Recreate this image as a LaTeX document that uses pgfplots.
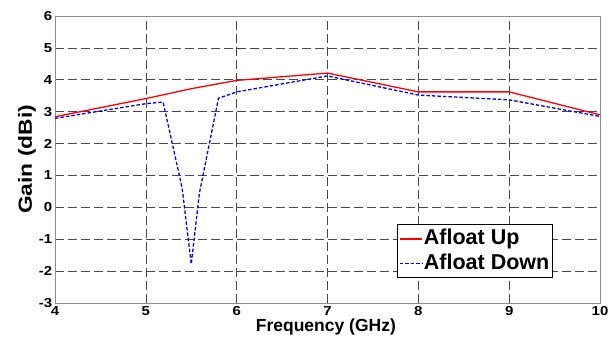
\documentclass[border=0pt]{standalone}
\usepackage{pgfplots}
\pgfplotsset{compat=1.18}
\usepackage{fontspec}
\setmainfont{Liberation Sans}
\begin{document}
\begin{tikzpicture}
\begin{axis}[
  scale only axis,
  width=545pt, height=287pt,
  xmin=4, xmax=10, ymin=-3, ymax=6,
  xtick={4,5,...,10}, ytick={-3,-2,...,6},
  /pgf/number format/assume math mode=true,
  ticklabel style={font=\fontsize{13}{13}\selectfont\bfseries, xscale=1.15},
  yticklabel style={xshift=1pt},
  xlabel={Frequency (GHz)}, ylabel={Gain (dBi)},
  xlabel style={font=\fontsize{17.5}{17.5}\selectfont\bfseries, at={(axis description cs:0.497,-0.0836)}, anchor=center},
  ylabel style={font=\fontsize{19}{19}\selectfont\bfseries, xscale=1.2, at={(axis description cs:-0.0514,0.5)}, anchor=center},
  grid=major,
  major grid style={black!72, dash pattern=on 9pt off 4pt, line width=0.6pt},
  axis line style={black!45, line width=0.9pt},
  tick style={draw=none},
  legend style={at={(0.914,0.087)}, anchor=south east, draw=black, line width=0.7pt,
    font=\fontsize{21.5}{24}\selectfont\bfseries, inner sep=2pt, row sep=0pt,
    nodes={inner sep=1.5pt, text height=16.5pt, text depth=5pt}},
  legend cell align=left,
  legend image post style={xscale=1.3},
]
\addplot[red, line width=1.3pt] coordinates {
(4,2.84) (5,3.41) (5.5,3.72) (6,3.98) (7,4.21) (8,3.62) (9,3.62) (10,2.9)
};
\addlegendentry{Afloat Up}
\addplot[blue, line width=1.3pt, dash pattern=on 3.5pt off 2pt] coordinates {
(4,2.79) (5,3.25) (5.19,3.3) (5.40,0.6) (5.50,-1.78) (5.59,0.45) (5.80,3.42) (6,3.62) (7,4.12) (8,3.52) (9,3.37) (10,2.85)
};
\addlegendentry{Afloat Down}
\path (rel axis cs:0,0) coordinate (A) (rel axis cs:1,1) coordinate (B);
\end{axis}
\pgfresetboundingbox
\path ([shift={(-55pt,-36pt)}]A) rectangle ([shift={(14pt,16pt)}]B);
\end{tikzpicture}
\end{document}
